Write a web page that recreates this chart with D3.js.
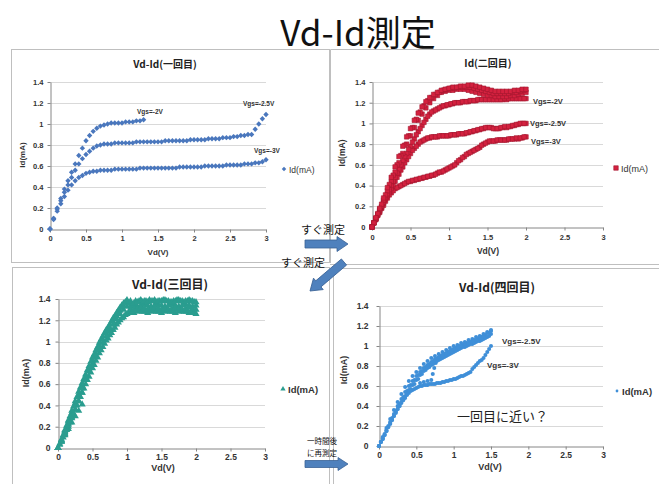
<!DOCTYPE html>
<html><head><meta charset="utf-8">
<script src="https://cdn.jsdelivr.net/npm/d3@7"></script>
<style>
body{margin:0;background:#fff;}
svg{display:block;font-family:"Liberation Sans",Arial,sans-serif;}
.jp{font-family:"Noto Sans CJK JP","Liberation Sans",sans-serif;}
</style></head>
<body>
<script>
// ---------- data ----------
const xTicks = [0,0.5,1,1.5,2,2.5,3];
const xTickLabels = ["0","0.5","1","1.5","2","2.5","3"];
const yTicks = [0,0.2,0.4,0.6,0.8,1,1.2,1.4];
const yTickLabels = ["0","0.2","0.4","0.6","0.8","1","1.2","1.4"];

const vdFull = [0,0.05,0.1,0.15,0.2,0.25,0.3,0.35,0.4,0.45,0.5,0.55,0.6,0.65,0.7,0.75,0.8,0.85,0.9,0.95,1,1.05,1.1,1.15,1.2,1.25,1.3,1.35,1.4,1.45,1.5,1.55,1.6,1.65,1.7,1.75,1.8,1.85,1.9,1.95,2,2.05,2.1,2.15,2.2,2.25,2.3,2.35,2.4,2.45,2.5,2.55,2.6,2.65,2.7,2.75,2.8,2.85,2.9,2.95,3];
const vdHalf = [0.025,0.075,0.125,0.175,0.225,0.275,0.325,0.375,0.425,0.475,0.525,0.575,0.625,0.675,0.725,0.775,0.825,0.875,0.925,0.975,1.025,1.075,1.125,1.175,1.225,1.275,1.325,1.375,1.425,1.475,1.525,1.575,1.625,1.675,1.725,1.775,1.825,1.875,1.925,1.975];

// Panel 1 (一回目)
const p1Vgs2 = [0,0.1,0.2,0.29,0.38,0.46,0.54,0.62,0.7,0.77,0.84,0.89,0.93,0.96,0.98,0.99,1.0,1.01,1.01,1.01,1.01,1.02,1.02,1.02,1.03,1.03,1.04];
const p1Vgs25 = [0,0.1,0.19,0.27,0.35,0.42,0.49,0.56,0.62,0.67,0.71,0.74,0.77,0.79,0.8,0.81,0.81,0.81,0.82,0.82,0.82,
  0.82,0.82,0.82,0.83,0.83,0.83,0.83,0.83,0.83,0.83,
  0.83,0.84,0.84,0.84,0.84,0.84,0.84,0.84,0.85,0.85,
  0.85,0.85,0.85,0.86,0.86,0.86,0.86,0.87,0.87,0.87,
  0.88,0.88,0.89,0.89,0.9,0.9,0.95,1.0,1.05,1.09];
const p1Vgs3 = [0,0.09,0.17,0.24,0.31,0.37,0.42,0.46,0.49,0.51,0.53,0.54,0.55,0.55,0.56,0.56,0.56,0.56,0.57,0.57,0.57,
  0.57,0.57,0.57,0.57,0.58,0.58,0.58,0.58,0.58,0.58,
  0.58,0.58,0.58,0.58,0.58,0.59,0.59,0.59,0.59,0.59,
  0.59,0.59,0.6,0.6,0.6,0.6,0.6,0.6,0.61,0.61,
  0.61,0.61,0.61,0.62,0.62,0.62,0.63,0.63,0.64,0.66];

// Panel 2 (二回目)
const p2SweepA = [0,0.09,0.18,0.28,0.38,0.48,0.58,0.68,0.78,0.87,0.95,1.03,1.1,1.16,1.21,1.25,1.28,1.3,1.32,1.33,1.34,1.35,1.35,1.36,1.36,1.37,1.37,1.36,1.35,1.34,1.33,1.32,1.31,1.31,1.31,1.31,1.31,1.32,1.32,1.33,1.33];
const p2SweepB = [0,0.08,0.17,0.26,0.35,0.44,0.53,0.62,0.71,0.8,0.88,0.96,1.03,1.09,1.15,1.2,1.24,1.27,1.3,1.31,1.32,1.32,1.33,1.33,1.33,1.32,1.31,1.3,1.29,1.28,1.27,1.27,1.26,1.26,1.26,1.26,1.27,1.27,1.28,1.29,1.3];
const p2SweepC = [0,0.08,0.16,0.24,0.32,0.4,0.48,0.56,0.64,0.71,0.78,0.85,0.92,0.98,1.04,1.09,1.12,1.14,1.16,1.17,1.18,1.19,1.2,1.2,1.21,1.21,1.22,1.22,1.23,1.23,1.23,1.23,1.23,1.23,1.23,1.23,1.24,1.24,1.24,1.24,1.24];
const p2Vgs25 = [0,0.08,0.15,0.23,0.3,0.37,0.44,0.51,0.58,0.65,0.71,0.76,0.8,0.83,0.85,0.86,0.87,0.87,0.88,0.88,0.88,0.89,0.89,0.9,0.9,0.91,0.92,0.93,0.94,0.95,0.96,0.96,0.95,0.95,0.96,0.96,0.97,0.98,0.99,1.0,1.0];
const p2Vgs3 = [0,0.07,0.14,0.21,0.28,0.33,0.37,0.39,0.41,0.43,0.44,0.45,0.46,0.47,0.48,0.49,0.5,0.52,0.53,0.55,0.57,0.59,0.62,0.65,0.68,0.71,0.73,0.75,0.77,0.8,0.82,0.83,0.83,0.84,0.84,0.84,0.85,0.85,0.85,0.86,0.87];
const p2HalfAB = [0.04,0.13,0.22,0.31,0.41,0.5,0.6,0.69,0.79,0.88, 0.96,1.04,1.11,1.17,1.22,1.25,1.28,1.3,1.32,1.33, 1.34,1.34,1.35,1.35,1.35,1.35,1.34,1.33,1.32,1.31, 1.3,1.29,1.29,1.29,1.29,1.29,1.3,1.3,1.31,1.32];
const p2HalfC = [0.04,0.12,0.2,0.28,0.36,0.44,0.52,0.6,0.68,0.75, 0.82,0.89,0.95,1.01,1.07,1.11,1.13,1.15,1.17,1.18, 1.19,1.2,1.2,1.21,1.21,1.22,1.22,1.23,1.23,1.23, 1.23,1.23,1.23,1.23,1.24,1.24,1.24,1.24,1.24,1.24];
const p2Half25 = [0.04,0.12,0.19,0.27,0.34,0.41,0.48,0.55,0.62,0.68, 0.74,0.78,0.82,0.84,0.86,0.87,0.87,0.88,0.88,0.88, 0.89,0.89,0.9,0.9,0.91,0.92,0.93,0.94,0.95,0.96, 0.96,0.95,0.95,0.96,0.97,0.97,0.98,0.99,1.0,1.0];
const p2Half3 = [0.04,0.11,0.18,0.25,0.31,0.35,0.38,0.4,0.42,0.44, 0.45,0.46,0.47,0.48,0.49,0.5,0.51,0.53,0.54,0.56, 0.58,0.6,0.64,0.67,0.7,0.72,0.74,0.76,0.79,0.81, 0.83,0.83,0.84,0.84,0.84,0.85,0.85,0.86,0.86,0.87];

// Panel 3 (三回目)
const p3SweepA = [0,0.08,0.17,0.26,0.35,0.44,0.53,0.61,0.69,0.77,0.85,0.92,0.99,1.05,1.11,1.16,1.22,1.27,1.32,1.36,1.39,1.38,1.36,1.37,1.39,1.38,1.37,1.38,1.39,1.38,1.38,1.39,1.38,1.37,1.38,1.39,1.38,1.38,1.39,1.38,1.37];
const p3SweepB = [0,0.07,0.15,0.23,0.31,0.4,0.48,0.56,0.64,0.72,0.79,0.86,0.93,0.99,1.05,1.1,1.16,1.21,1.26,1.3,1.33,1.33,1.34,1.33,1.34,1.35,1.34,1.33,1.34,1.35,1.34,1.33,1.34,1.35,1.34,1.33,1.34,1.35,1.34,1.33,1.34];
const p3SweepC = [0,0.06,0.13,0.2,0.28,0.36,0.44,0.52,0.6,0.67,0.75,0.82,0.89,0.95,1.01,1.06,1.11,1.16,1.2,1.23,1.26,1.27,1.27,1.28,1.29,1.28,1.27,1.28,1.29,1.28,1.27,1.28,1.29,1.28,1.27,1.28,1.29,1.28,1.27,1.28,1.26];
const p3SweepD = [0,0.07,0.16,0.25,0.33,0.42,0.5,0.58,0.66,0.74,0.82,0.89,0.96,1.02,1.08,1.13,1.19,1.24,1.29,1.33,1.36,1.31,1.3,1.31,1.32,1.31,1.3,1.31,1.32,1.31,1.3,1.31,1.3,1.31,1.32,1.31,1.3,1.31,1.32,1.31,1.3];
const p3HalfA = [0.04,0.12,0.21,0.3,0.39,0.48,0.57,0.65,0.73,0.81, 0.88,0.95,1.02,1.08,1.13,1.19,1.24,1.29,1.34,1.37, 1.36,1.35,1.38,1.38,1.37,1.38,1.39,1.38,1.37,1.38, 1.39,1.38,1.37,1.38,1.39,1.38,1.37,1.38,1.38,1.37];
const p3HalfB = [0.03,0.1,0.17,0.24,0.32,0.4,0.48,0.56,0.64,0.71, 0.78,0.85,0.92,0.98,1.03,1.08,1.13,1.18,1.22,1.25, 1.27,1.28,1.3,1.29,1.28,1.29,1.3,1.29,1.28,1.29, 1.3,1.29,1.28,1.29,1.3,1.29,1.28,1.29,1.28,1.27];
const p3ShortA = [0,0.06,0.12,0.18,0.24,0.3,0.35,0.41];
const p3ShortB = [0,0.07,0.14,0.22,0.29,0.36,0.44,0.52];

// Panel 4 (四回目)
const p4SweepA = [0,0.08,0.16,0.24,0.32,0.4,0.47,0.54,0.6,0.65,0.7,0.74,0.78,0.81,0.84,0.87,0.89,0.91,0.93,0.95,0.97,0.99,1.0,1.02,1.03,1.05,1.06,1.08,1.1,1.13,1.15];
const p4SweepB = [0,0.07,0.15,0.23,0.3,0.37,0.44,0.5,0.56,0.61,0.66,0.71,0.75,0.78,0.81,0.84,0.86,0.88,0.9,0.92,0.94,0.96,0.98,0.99,1.01,1.02,1.04,1.05,1.07,1.09,1.12];
const p4SweepE = [0,0.09,0.18,0.27,0.36,0.44,0.52,0.59,0.65,0.7,0.74,0.78,0.82,0.85,0.88,0.9,0.92,0.94,0.96,0.98,1.0,1.01,1.03,1.04,1.06,1.07,1.09,1.1,1.12,1.14,1.16];
const p4SweepC = [0.04,0.12,0.2,0.28,0.35,0.42,0.49,0.55,0.61,0.66,0.71,0.75,0.79,0.82,0.85,0.87,0.9,0.92,0.94,0.96,0.98,1.0,1.01,1.03,1.04,1.06,1.07,1.09,1.11,1.13];
const p4SweepD = [0.04,0.11,0.19,0.26,0.33,0.4,0.46,0.52,0.57,0.62,0.67,0.72,0.76,0.79,0.82,0.85,0.87,0.89,0.91,0.93,0.95,0.97,0.99,1.0,1.02,1.03,1.05,1.06,1.08,1.1];
const p4Vgs3 = [0,0.07,0.15,0.22,0.3,0.37,0.43,0.48,0.53,0.56,0.58,0.6,0.61,0.61,0.62,0.62,0.63,0.64,0.65,0.66,0.67,0.68,0.7,0.71,0.73,0.77,0.81,0.85,0.88,0.94,1.0];
const p4Vgs3Half = [0.04,0.11,0.19,0.26,0.34,0.4,0.46,0.51,0.55,0.57,0.59,0.6,0.61,0.62,0.62,0.63,0.63,0.64,0.65,0.66,0.67,0.69,0.7,0.72,0.74,0.79,0.83,0.86,0.91,0.97];
const p4BranchVd = [0.55,0.6,0.65,0.7,0.72,0.74,0.76,0.78,0.8];
const p4BranchId = [0.63,0.64,0.65,0.66,0.72,0.78,0.83,0.87,0.88];

// ---------- drawing ----------
const W = 659, H = 484;
const svg = d3.select("body").append("svg").attr("width", W).attr("height", H);
const frame = "#bfbfbf";

svg.append("rect").attr("x",11.5).attr("y",49.5).attr("width",318).attr("height",213).attr("fill","none").attr("stroke",frame);
svg.append("path").attr("d","M330.5,49.5 H659 M330.5,49.5 V263 M330,264.5 H659").attr("stroke",frame).attr("fill","none");
svg.append("rect").attr("x",12.5).attr("y",267.5).attr("width",317).attr("height",230).attr("fill","none").attr("stroke",frame);
svg.append("path").attr("d","M333.5,268.5 H659 M333.5,268.5 V484").attr("stroke",frame).attr("fill","none");

svg.append("text").attr("class","jp").attr("x",358).attr("y",46).attr("text-anchor","middle")
  .attr("font-size",35).attr("fill","#111").text("Vd-Id測定");

const diamond = {draw(ctx,size){const r=Math.sqrt(size)/2*1.2;ctx.moveTo(0,-r);ctx.lineTo(r,0);ctx.lineTo(0,r);ctx.lineTo(-r,0);ctx.closePath();}};

function drawPanel(cfg){
  const x = d3.scaleLinear().domain([0,3]).range(cfg.xr);
  const y = d3.scaleLinear().domain([0,1.4]).range(cfg.yr);
  const g = svg.append("g");
  g.selectAll("line.grid").data(yTicks.slice(1)).join("line")
    .attr("x1",cfg.xr[0]).attr("x2",cfg.xr[1])
    .attr("y1",d=>Math.round(y(d))+0.5).attr("y2",d=>Math.round(y(d))+0.5)
    .attr("stroke","#d9d9d9");
  const ax = d3.axisBottom(x).tickValues(xTicks).tickFormat((d,i)=>xTickLabels[i])
    .tickSizeInner(3).tickSizeOuter(0).tickPadding(cfg.xpad);
  const ay = d3.axisLeft(y).tickValues(yTicks).tickFormat((d,i)=>yTickLabels[i])
    .tickSizeInner(3).tickSizeOuter(0).tickPadding(cfg.ypad);
  const gx = g.append("g").attr("transform",`translate(0,${Math.round(cfg.yr[0])+0.5})`).call(ax);
  const gy = g.append("g").attr("transform",`translate(${Math.round(cfg.xr[0])+0.5},0)`).call(ay);
  [gx,gy].forEach(a=>{
    a.select(".domain").attr("stroke","#868686");
    a.selectAll(".tick line").attr("stroke","#868686");
    a.selectAll(".tick text").attr("fill","#333").attr("font-size",cfg.tickFont).attr("font-weight","bold")
      .attr("font-family","Liberation Sans, Arial, sans-serif");
  });
  const sym = d3.symbol().type(cfg.symbol).size(cfg.symSize);
  cfg.series.forEach(s=>{
    const pts = s.id.map((v,i)=>[s.vd[i],v]);
    g.append("g").selectAll("path").data(pts).join("path")
      .attr("d",sym)
      .attr("transform",d=>`translate(${x(d[0])},${y(d[1])})`)
      .attr("fill",s.color||cfg.color)
      .attr("stroke",cfg.stroke||"none").attr("stroke-width",0.6);
  });
  g.append("text").attr("class","jp").attr("x",cfg.title[0]).attr("y",cfg.title[1]).attr("text-anchor","middle")
    .attr("font-size",cfg.titleFont).attr("font-weight","bold").attr("fill","#222").text(cfg.titleText);
  g.append("text").attr("x",cfg.xTitle[0]).attr("y",cfg.xTitle[1]).attr("text-anchor","middle")
    .attr("font-size",cfg.axisFont).attr("font-weight","bold").attr("fill","#333").text("Vd(V)");
  g.append("text").attr("transform",`translate(${cfg.yTitle[0]},${cfg.yTitle[1]}) rotate(-90)`).attr("text-anchor","middle")
    .attr("font-size",cfg.axisFont).attr("font-weight","bold").attr("fill","#333").text("Id(mA)");
  g.append("path").attr("d",d3.symbol().type(cfg.symbol).size(cfg.legSize)())
    .attr("transform",`translate(${cfg.legend[0]},${cfg.legend[1]})`).attr("fill",cfg.color).attr("stroke",cfg.stroke||"none").attr("stroke-width",0.6);
  g.append("text").attr("x",cfg.legend[0]+5).attr("y",cfg.legend[1]+3.5).attr("font-size",cfg.legFont)
    .attr("font-weight",cfg.legBold?"bold":"normal").attr("fill","#333").text("Id(mA)");
  (cfg.notes||[]).forEach(n=>{
    g.append("text").attr("class",n.jp?"jp":null).attr("x",n.x).attr("y",n.y).attr("font-size",n.size)
      .attr("font-weight",n.bold===false?"normal":"bold").attr("fill",n.color||"#333").text(n.t);
  });
}

drawPanel({
  xr:[50,266], yr:[229,82], xpad:3, ypad:4, tickFont:7.5,
  symbol:diamond, symSize:20, legSize:14, color:"#4a77bd",
  series:[
    {vd:vdFull.slice(0,p1Vgs2.length), id:p1Vgs2},
    {vd:vdFull, id:p1Vgs25},
    {vd:vdFull, id:p1Vgs3}
  ],
  titleText:"Vd-Id(一回目)", title:[165,68], titleFont:10,
  xTitle:[158,255], yTitle:[25,155], axisFont:8,
  legend:[284,169], legFont:8.5, legBold:false,
  notes:[
    {t:"Vgs=-2V",x:137,y:114,size:6.5},
    {t:"Vgs=-2.5V",x:243,y:106,size:6.5},
    {t:"Vgs=-3V",x:254,y:153,size:6.5}
  ]
});

drawPanel({
  xr:[372,603], yr:[227,82], xpad:4, ypad:4, tickFont:7.5,
  symbol:d3.symbolSquare, symSize:20, legSize:20, color:"#d4213f", stroke:"#a3182f",
  series:[
    {vd:vdFull.slice(0,41), id:p2Vgs3},
    {vd:vdHalf, id:p2Half3},
    {vd:vdFull.slice(0,41), id:p2Vgs25},
    {vd:vdHalf, id:p2Half25},
    {vd:vdFull.slice(0,41), id:p2SweepC},
    {vd:vdHalf, id:p2HalfC},
    {vd:vdFull.slice(0,41), id:p2SweepB},
    {vd:vdHalf, id:p2HalfAB},
    {vd:vdFull.slice(0,41), id:p2SweepA}
  ],
  titleText:"Id(二回目)", title:[488,67], titleFont:10,
  xTitle:[488,254], yTitle:[345,153], axisFont:8.5,
  legend:[616,168], legFont:9, legBold:false,
  notes:[
    {t:"Vgs=-2V",x:533,y:104,size:7.5},
    {t:"Vgs=-2.5V",x:530,y:126,size:7.5},
    {t:"Vgs=-3V",x:531,y:144,size:7.5}
  ]
});

drawPanel({
  xr:[58,265], yr:[448,299], xpad:2, ypad:5, tickFont:8.5,
  symbol:d3.symbolTriangle, symSize:22, legSize:12, color:"#2a9d8f",
  series:[
    {vd:vdFull.slice(0,8), id:p3ShortA},
    {vd:vdFull.slice(0,8), id:p3ShortB},
    {vd:vdFull.slice(0,41), id:p3SweepC},
    {vd:vdHalf, id:p3HalfB},
    {vd:vdFull.slice(0,41), id:p3SweepB},
    {vd:vdFull.slice(0,41), id:p3SweepD},
    {vd:vdHalf, id:p3HalfA},
    {vd:vdFull.slice(0,41), id:p3SweepA}
  ],
  titleText:"Vd-Id(三回目)", title:[170,289], titleFont:12,
  xTitle:[163,471], yTitle:[29,373], axisFont:9,
  legend:[283,389], legFont:9.5, legBold:true,
  notes:[]
});

drawPanel({
  xr:[379,603], yr:[446,306], xpad:2, ypad:8, tickFont:8.5,
  symbol:d3.symbolCircle, symSize:13, legSize:6, color:"#3f8fd8",
  series:[
    {vd:vdFull.slice(0,31), id:p4Vgs3},
    {vd:vdHalf.slice(0,30), id:p4Vgs3Half},
    {vd:p4BranchVd, id:p4BranchId},
    {vd:vdFull.slice(0,31), id:p4SweepB},
    {vd:vdHalf.slice(0,30), id:p4SweepD},
    {vd:vdHalf.slice(0,30), id:p4SweepC},
    {vd:vdFull.slice(0,31), id:p4SweepA},
    {vd:vdFull.slice(0,31), id:p4SweepE}
  ],
  titleText:"Vd-Id(四回目)", title:[497,292], titleFont:12,
  xTitle:[490,470], yTitle:[347,370], axisFont:9,
  legend:[617,391], legFont:9.5, legBold:true,
  notes:[
    {t:"Vgs=-2.5V",x:502,y:344,size:8},
    {t:"Vgs=-3V",x:487,y:368,size:8},
    {t:"一回目に近い？",x:457,y:421,size:13,bold:false,jp:true,color:"#222"}
  ]
});

function blockArrow(x1,y1,x2,y2,sw,hw,hl){
  const len = Math.hypot(x2-x1,y2-y1), ang = Math.atan2(y2-y1,x2-x1)*180/Math.PI;
  const p = `M0,${-sw/2} L${len-hl},${-sw/2} L${len-hl},${-hw/2} L${len},0 L${len-hl},${hw/2} L${len-hl},${sw/2} L0,${sw/2} Z`;
  svg.append("path").attr("d",p).attr("transform",`translate(${x1},${y1}) rotate(${ang})`)
    .attr("fill","#4f81bd").attr("stroke","#3a6296").attr("stroke-width",0.8);
}
blockArrow(305,244,348,244,8,15,11);
blockArrow(344,262,310,291,8,15,11);
blockArrow(305,464,348,464,7,13,10);

const lbl = [
  {t:"すぐ測定",x:323,y:234,s:11},
  {t:"すぐ測定",x:303,y:267,s:11},
  {t:"一時間後",x:322,y:444,s:7.5},
  {t:"に再測定",x:322,y:455.5,s:7.5}
];
svg.selectAll("text.lbl").data(lbl).join("text").attr("class","lbl jp")
  .attr("x",d=>d.x).attr("y",d=>d.y).attr("text-anchor","middle")
  .attr("font-size",d=>d.s).attr("fill","#111").text(d=>d.t);
</script>
</body></html>
